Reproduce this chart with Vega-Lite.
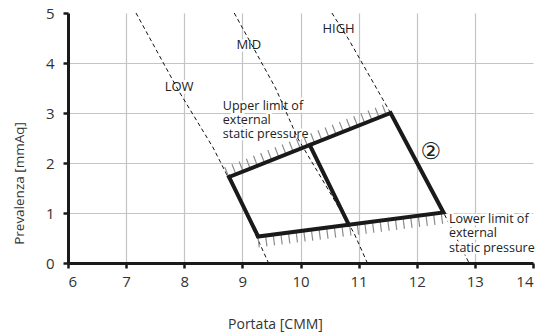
{
  "$schema": "https://vega.github.io/schema/vega-lite/v6.json",
  "width": 465,
  "height": 250,
  "autosize": {"type": "none"},
  "padding": {"left": 68, "top": 13, "right": 6, "bottom": 73},
  "config": {"view": {"stroke": null}, "font": "Open Sans"},
  "datasets": {
    "lines": [
      {"s": "LOW", "o": 0, "x": 7.17, "y": 5},
      {"s": "LOW", "o": 1, "x": 7.9, "y": 3.45},
      {"s": "LOW", "o": 2, "x": 8.5, "y": 2.3},
      {"s": "LOW", "o": 3, "x": 9.0, "y": 1.15},
      {"s": "LOW", "o": 4, "x": 9.45, "y": 0},
      {"s": "MID", "o": 0, "x": 8.86, "y": 5},
      {"s": "MID", "o": 1, "x": 9.57, "y": 3.5},
      {"s": "MID", "o": 2, "x": 9.95, "y": 2.5},
      {"s": "MID", "o": 3, "x": 10.92, "y": 0.6},
      {"s": "MID", "o": 4, "x": 11.15, "y": 0},
      {"s": "HIGH", "o": 0, "x": 10.54, "y": 5},
      {"s": "HIGH", "o": 1, "x": 10.83, "y": 4.47},
      {"s": "HIGH", "o": 2, "x": 11.55, "y": 3.0},
      {"s": "HIGH", "o": 3, "x": 12.46, "y": 1.01},
      {"s": "HIGH", "o": 4, "x": 12.9, "y": 0},
      {"s": "outline", "o": 0, "x": 8.77, "y": 1.72},
      {"s": "outline", "o": 1, "x": 11.55, "y": 3.0},
      {"s": "outline", "o": 2, "x": 12.46, "y": 1.01},
      {"s": "outline", "o": 3, "x": 9.27, "y": 0.53},
      {"s": "outline", "o": 4, "x": 8.77, "y": 1.72},
      {"s": "middle", "o": 0, "x": 10.16, "y": 2.355},
      {"s": "middle", "o": 1, "x": 10.83, "y": 0.77},
      {"s": "hatchUp", "o": 0, "x": 8.72, "y": 1.7},
      {"s": "hatchUp", "o": 1, "x": 11.55, "y": 3.0},
      {"s": "hatchLow", "o": 0, "x": 9.27, "y": 0.53},
      {"s": "hatchLow", "o": 1, "x": 12.5, "y": 1.01}
    ],
    "labels": [
      {"t": "LOW", "x": 7.664, "y": 3.432, "fs": 13, "top": 0},
      {"t": "MID", "x": 8.897, "y": 4.28, "fs": 13, "top": 0},
      {"t": "HIGH", "x": 10.377, "y": 4.6, "fs": 13, "top": 0},
      {"t": "Upper limit of|external|static pressure", "x": 8.664, "y": 3.066, "fs": 12.5, "top": 0},
      {"t": "Lower limit of|external|static pressure", "x": 12.555, "y": 0.8, "fs": 12.5, "top": 1}
    ],
    "marker": [
      {"t": "②", "x": 12.243, "y": 2.216}
    ]
  },
  "layer": [
    {
      "data": {"name": "labels"},
      "transform": [{"filter": "datum.top == 0"}],
      "mark": {"type": "text", "align": "left", "baseline": "alphabetic", "lineBreak": "|", "lineHeight": 14.3, "fill": "white", "stroke": "white", "strokeWidth": 5, "strokeJoin": "round"},
      "encoding": {
        "x": {"field": "x", "type": "quantitative", "scale": {"domain": [6, 14], "nice": false, "zero": false},
          "axis": {
            "values": [6, 7, 8, 9, 10, 11, 12, 13, 14],
            "format": "d",
            "grid": true, "gridColor": "#c4c4c4", "gridWidth": 1.2,
            "gridOpacity": {"expr": "datum.value == 14 ? 0 : 1"},
            "domainColor": "#1a1a1a", "domainWidth": 3,
            "tickColor": "#1a1a1a", "tickWidth": 2.5, "tickSize": 5,
            "labelFontSize": 15, "labelColor": "#333333", "labelPadding": 6, "labelFont": "Open Sans",
            "title": "Portata [CMM]", "titleFontSize": 14, "titleFontWeight": "normal", "titleColor": "#333333",
            "titleFont": "Open Sans", "titleX": 207, "titleY": 65, "titleBaseline": "alphabetic", "titleAlign": "center"
          }},
        "y": {"field": "y", "type": "quantitative", "scale": {"domain": [0, 5], "nice": false},
          "axis": {
            "values": [0, 0.5, 1, 1.5, 2, 2.5, 3, 3.5, 4, 4.5, 5],
            "labelExpr": "datum.value % 1 == 0 ? format(datum.value, 'd') : ''",
            "grid": true, "gridColor": "#c4c4c4", "gridWidth": 1.2,
            "gridOpacity": {"expr": "datum.value == 5 ? 0 : 1"},
            "domainColor": "#1a1a1a", "domainWidth": 3,
            "tickColor": "#1a1a1a", "tickWidth": 2.5, "tickSize": 5,
            "labelFontSize": 15, "labelColor": "#333333", "labelPadding": 9, "labelFont": "Open Sans",
            "title": "Prevalenza [mmAq]", "titleFontSize": 13.5, "titleFontWeight": "normal", "titleColor": "#333333",
            "titleFont": "Open Sans", "titleX": -45, "titleY": 170, "titleBaseline": "alphabetic", "titleAlign": "center", "titleAngle": -90
          }},
        "text": {"field": "t", "type": "nominal"},
        "size": {"field": "fs", "type": "quantitative", "scale": null}
      }
    },
    {
      "data": {"name": "labels"},
      "transform": [{"filter": "datum.top == 0"}],
      "mark": {"type": "text", "align": "left", "baseline": "alphabetic", "lineBreak": "|", "lineHeight": 14.3, "color": "#222222"},
      "encoding": {
        "x": {"field": "x", "type": "quantitative"},
        "y": {"field": "y", "type": "quantitative"},
        "text": {"field": "t", "type": "nominal"},
        "size": {"field": "fs", "type": "quantitative", "scale": null}
      }
    },
    {
      "data": {"name": "marker"},
      "mark": {"type": "text", "align": "center", "baseline": "middle", "font": "DejaVu Sans", "fontSize": 23, "color": "#222222"},
      "encoding": {
        "x": {"field": "x", "type": "quantitative"},
        "y": {"field": "y", "type": "quantitative"},
        "text": {"field": "t", "type": "nominal"}
      }
    },
    {
      "data": {"name": "lines"},
      "transform": [{"filter": "indexof(['LOW','MID','HIGH'], datum.s) >= 0"}],
      "mark": {"type": "line", "color": "#111111", "strokeWidth": 1, "strokeDash": [4, 3]},
      "encoding": {
        "x": {"field": "x", "type": "quantitative"},
        "y": {"field": "y", "type": "quantitative"},
        "detail": {"field": "s", "type": "nominal"},
        "order": {"field": "o", "type": "quantitative"}
      }
    },
    {
      "data": {"name": "lines"},
      "transform": [{"filter": "datum.s == 'hatchUp'"}],
      "mark": {"type": "line", "color": "#8c8c8c", "strokeWidth": 10, "strokeDash": [1.2, 6.5], "yOffset": -6, "strokeCap": "butt"},
      "encoding": {
        "x": {"field": "x", "type": "quantitative"},
        "y": {"field": "y", "type": "quantitative"},
        "order": {"field": "o", "type": "quantitative"}
      }
    },
    {
      "data": {"name": "lines"},
      "transform": [{"filter": "datum.s == 'hatchLow'"}],
      "mark": {"type": "line", "color": "#8c8c8c", "strokeWidth": 10, "strokeDash": [1.2, 6.5], "yOffset": 6, "strokeCap": "butt"},
      "encoding": {
        "x": {"field": "x", "type": "quantitative"},
        "y": {"field": "y", "type": "quantitative"},
        "order": {"field": "o", "type": "quantitative"}
      }
    },
    {
      "data": {"name": "labels"},
      "transform": [{"filter": "datum.top == 1"}],
      "mark": {"type": "text", "align": "left", "baseline": "alphabetic", "lineBreak": "|", "lineHeight": 14.3, "fill": "white", "stroke": "white", "strokeWidth": 5, "strokeJoin": "round"},
      "encoding": {
        "x": {"field": "x", "type": "quantitative"},
        "y": {"field": "y", "type": "quantitative"},
        "text": {"field": "t", "type": "nominal"},
        "size": {"field": "fs", "type": "quantitative", "scale": null}
      }
    },
    {
      "data": {"name": "labels"},
      "transform": [{"filter": "datum.top == 1"}],
      "mark": {"type": "text", "align": "left", "baseline": "alphabetic", "lineBreak": "|", "lineHeight": 14.3, "color": "#222222"},
      "encoding": {
        "x": {"field": "x", "type": "quantitative"},
        "y": {"field": "y", "type": "quantitative"},
        "text": {"field": "t", "type": "nominal"},
        "size": {"field": "fs", "type": "quantitative", "scale": null}
      }
    },
    {
      "data": {"name": "lines"},
      "transform": [{"filter": "datum.s == 'outline' || datum.s == 'middle'"}],
      "mark": {"type": "line", "color": "#1a1a1a", "strokeWidth": 4, "strokeJoin": "miter", "strokeCap": "square"},
      "encoding": {
        "x": {"field": "x", "type": "quantitative"},
        "y": {"field": "y", "type": "quantitative"},
        "detail": {"field": "s", "type": "nominal"},
        "order": {"field": "o", "type": "quantitative"}
      }
    }
  ]
}
